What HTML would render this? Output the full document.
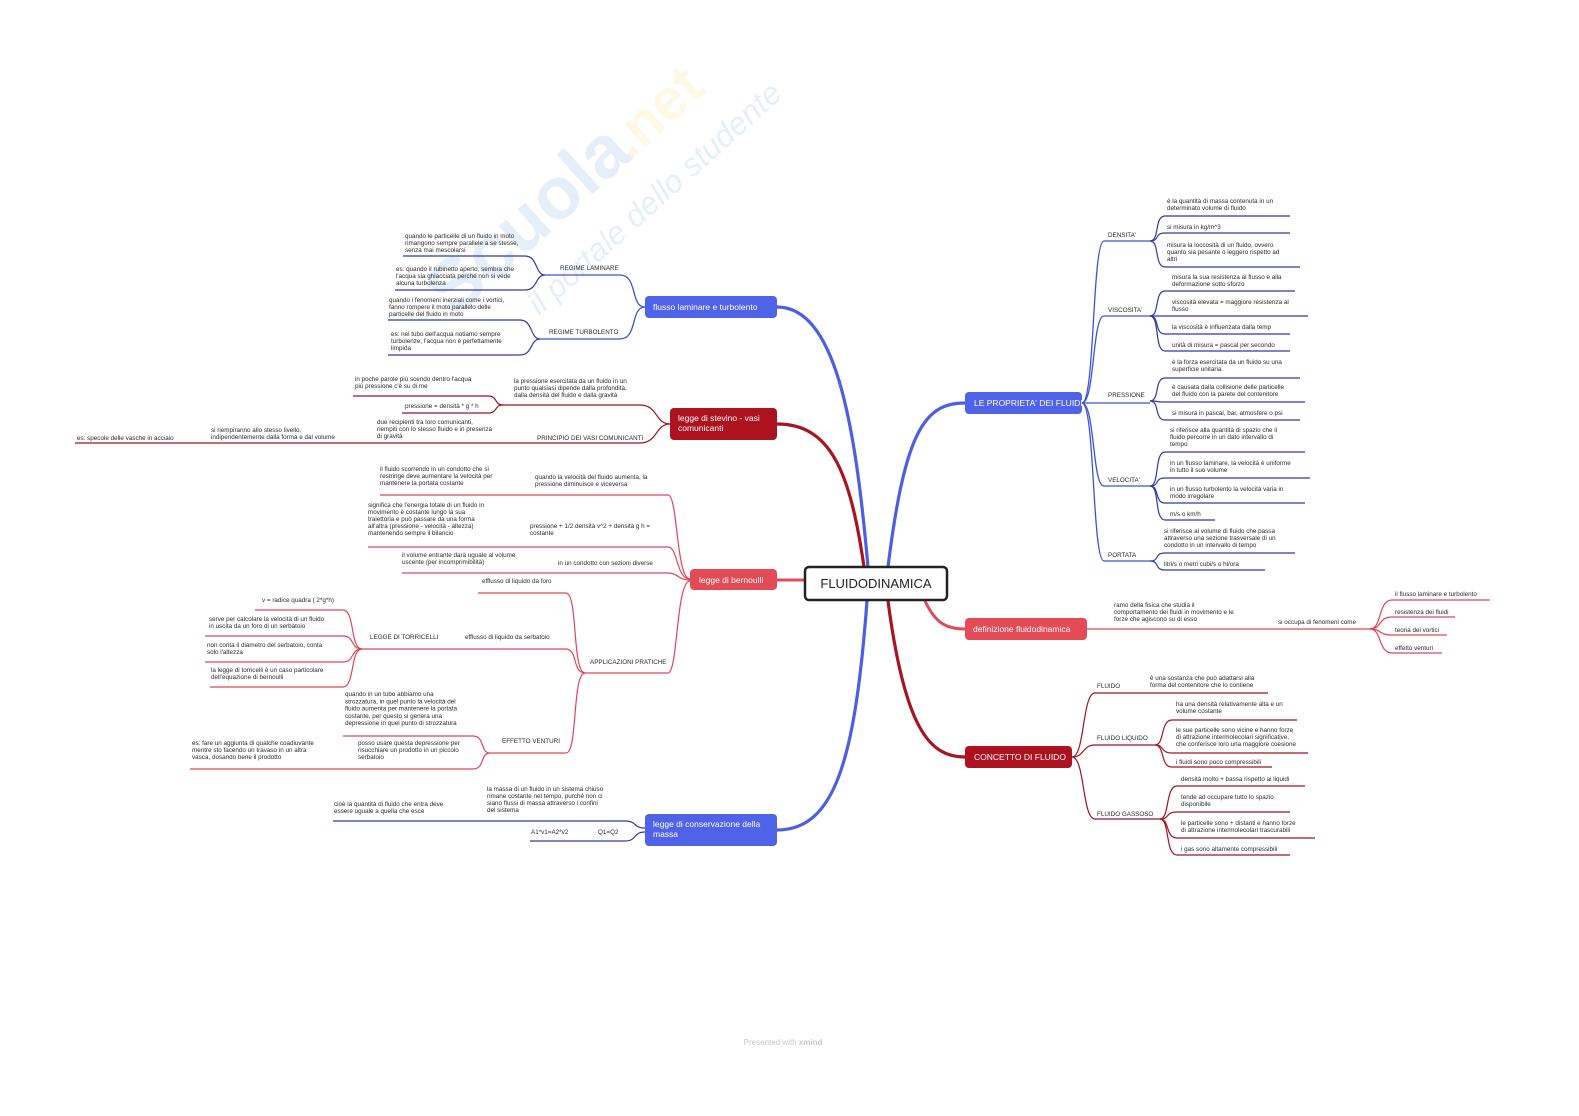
<!DOCTYPE html>
<html><head><meta charset="utf-8"><style>
html,body{margin:0;padding:0;background:#fff;}
svg{display:block;font-family:"Liberation Sans",sans-serif;}
.t{font-size:6.3px;fill:#2a2a2a;}
.c{font-size:6.3px;fill:#2a2a2a;}
.b{fill:none;stroke:#3d52dc;stroke-width:1.3;}
.bd{fill:none;stroke:#2c3aa8;stroke-width:1.2;}
.r{fill:none;stroke:#e04556;stroke-width:1.2;}
.dr{fill:none;stroke:#a01420;stroke-width:1.2;}
.nt{font-size:8.5px;fill:#fff;}
</style></head><body>
<svg width="1579" height="1116" viewBox="0 0 1579 1116" xmlns="http://www.w3.org/2000/svg">
<!-- watermark -->
<g opacity="0.16" transform="rotate(-42 560 190)">
<text x="395" y="215" font-size="74" font-weight="bold" fill="#6aa2dc">Scuola</text>
<text x="632" y="215" font-size="58" font-weight="bold" fill="#f3e060">.net</text>
<text x="460" y="270" font-size="32" font-style="italic" fill="#6aa2dc">il portale dello studente</text>
</g>

<!-- main branches -->
<path d="M868,567 C855,420 835,307 777,307" fill="none" stroke="#4b5ee6" stroke-width="3.2"/>
<path d="M864,567 C850,470 830,424 777,424" fill="none" stroke="#a81420" stroke-width="3.2"/>
<path d="M805,580 H777" fill="none" stroke="#e24a58" stroke-width="3"/>
<path d="M867,601 C855,760 835,830 777,830" fill="none" stroke="#4b5ee6" stroke-width="3.2"/>
<path d="M888,567 C905,430 925,403 965,403" fill="none" stroke="#4b5ee6" stroke-width="3.2"/>
<path d="M925,601 C935,622 945,629 965,629" fill="none" stroke="#e24a58" stroke-width="3"/>
<path d="M888,601 C905,730 930,757 965,757" fill="none" stroke="#a81420" stroke-width="3.2"/>

<!-- center -->
<rect x="805" y="567" width="142" height="33" rx="4" fill="#fff" stroke="#222" stroke-width="2.5"/>
<text x="876" y="588" font-size="13" text-anchor="middle" fill="#222">FLUIDODINAMICA</text>

<!-- nodes -->
<rect x="645" y="296" width="132" height="22" rx="4" fill="#4f63e8"/>
<text x="653" y="310" class="nt">flusso laminare e turbolento</text>
<rect x="670" y="408" width="107" height="32" rx="4" fill="#ac131f"/>
<text x="678" y="421" class="nt">legge di stevino - vasi</text>
<text x="678" y="431" class="nt">comunicanti</text>
<rect x="690" y="569" width="87" height="21" rx="4" fill="#e54a57"/>
<text x="699" y="583" class="nt">legge di bernoulli</text>
<rect x="645" y="814" width="132" height="32" rx="4" fill="#4f63e8"/>
<text x="653" y="827" class="nt">legge di conservazione della</text>
<text x="653" y="837" class="nt">massa</text>
<rect x="965" y="392" width="117" height="22" rx="4" fill="#4f63e8"/>
<text x="974" y="406" class="nt" font-size="7.5">LE PROPRIETA' DEI FLUIDI</text>
<rect x="965" y="618" width="122" height="22" rx="4" fill="#e54a57"/>
<text x="973" y="632" class="nt">definizione fluidodinamica</text>
<rect x="965" y="746" width="107" height="22" rx="4" fill="#ac131f"/>
<text x="974" y="760" class="nt" font-size="7.5">CONCETTO DI FLUIDO</text>

<!-- flusso -->
<path class="b" d="M645,307 C630,307 638,275 620,275 H545"/>
<path class="b" d="M645,307 C630,307 638,339 620,339 H540"/>
<text class="c" x="560" y="270">REGIME LAMINARE</text>
<text class="c" x="549" y="334">REGIME TURBOLENTO</text>
<path class="bd" d="M545,275 C535,275 538,256 525,256 H403"/>
<path class="bd" d="M545,275 C535,275 538,290 525,290 H395"/>
<path class="bd" d="M540,339 C530,339 533,320 520,320 H388"/>
<path class="bd" d="M540,339 C530,339 533,355 520,355 H388"/>
<text class="t" x="405" y="238"><tspan x="405">quando le particelle di un fluido in moto</tspan><tspan x="405" dy="7">rimangono sempre parallele a se stesse,</tspan><tspan x="405" dy="7">senza mai mescolarsi</tspan></text>
<text class="t" x="396" y="271"><tspan x="396">es: quando il rubinetto aperto, sembra che</tspan><tspan x="396" dy="7">l'acqua sia ghiacciata perché non si vede</tspan><tspan x="396" dy="7">alcuna turbolenza</tspan></text>
<text class="t" x="389" y="302"><tspan x="389">quando i fenomeni inerziali come i vortici,</tspan><tspan x="389" dy="7">fanno rompere il moto parallelo delle</tspan><tspan x="389" dy="7">particelle del fluido in moto</tspan></text>
<text class="t" x="391" y="336"><tspan x="391">es: nel tubo dell'acqua notiamo sempre</tspan><tspan x="391" dy="7">turbolenze, l'acqua non è perfettamente</tspan><tspan x="391" dy="7">limpida</tspan></text>

<!-- stevino -->
<path class="dr" d="M670,424 C655,424 658,405 640,405 H503"/>
<path class="dr" d="M503,405 C494,405 498,396 488,396 H353"/>
<path class="dr" d="M503,405 C494,405 498,413 488,413 H402"/>
<path class="dr" d="M670,424 C655,424 658,443 640,443 H75"/>
<text class="t"><tspan x="514" y="383">la pressione esercitata da un fluido in un</tspan><tspan x="514" dy="7">punto qualsiasi dipende dalla profondità,</tspan><tspan x="514" dy="7">dalla densità del fluido e dalla gravità</tspan></text>
<text class="t"><tspan x="355" y="381">in poche parole più scendo dentro l'acqua</tspan><tspan x="355" dy="7">più pressione c'è su di me</tspan></text>
<text class="t" x="405" y="408">pressione = densità * g * h</text>
<text class="c" x="537" y="440">PRINCIPIO DEI VASI COMUNICANTI</text>
<text class="t"><tspan x="377" y="424">due recipienti tra loro comunicanti,</tspan><tspan x="377" dy="7">riempiti con lo stesso fluido e in presenza</tspan><tspan x="377" dy="7">di gravità</tspan></text>
<text class="t"><tspan x="211" y="432">si riempiranno allo stesso livello,</tspan><tspan x="211" dy="7">indipendentemente dalla forma e dal volume</tspan></text>
<text class="t" x="77" y="440">es: specole delle vasche in acciaio</text>

<!-- bernoulli -->
<path class="r" d="M690,579 C676,579 678,495 668,495 H380"/>
<path class="r" d="M690,579 C676,579 678,547 668,547 H368"/>
<path class="r" d="M690,580 C678,580 678,573 668,573 H402"/>
<path class="r" d="M690,581 C676,581 678,673 668,673 H585"/>
<text class="t"><tspan x="535" y="479">quando la velocità del fluido aumenta, la</tspan><tspan x="535" dy="7">pressione diminuisce e viceversa</tspan></text>
<text class="t"><tspan x="380" y="471">il fluido scorrendo in un condotto che si</tspan><tspan x="380" dy="7">restringe deve aumentare la velocità per</tspan><tspan x="380" dy="7">mantenere la portata costante</tspan></text>
<text class="t"><tspan x="530" y="528">pressione + 1/2 densità v^2 + densità g h =</tspan><tspan x="530" dy="7">costante</tspan></text>
<text class="t"><tspan x="368" y="507">significa che l'energia totale di un fluido in</tspan><tspan x="368" dy="7">movimento è costante lungo la sua</tspan><tspan x="368" dy="7">traiettoria e può passare da una forma</tspan><tspan x="368" dy="7">all'altra (pressione - velocità - altezza)</tspan><tspan x="368" dy="7">mantenendo sempre il bilancio</tspan></text>
<text class="t" x="558" y="565">in un condotto con sezioni diverse</text>
<text class="t"><tspan x="402" y="557">il volume entrante darà uguale al volume</tspan><tspan x="402" dy="7">uscente (per incomprimibilità)</tspan></text>
<text class="c" x="590" y="664">APPLICAZIONI PRATICHE</text>
<path class="r" d="M585,673 C572,673 578,593 566,593 H478"/>
<path class="r" d="M585,673 C572,673 578,649 566,649 H362"/>
<path class="r" d="M585,673 C572,673 578,753 566,753 H490"/>
<text class="t" x="482" y="583">efflusso di liquido da foro</text>
<text class="t" x="465" y="639">efflusso di liquido da serbatoio</text>
<text class="c" x="370" y="639">LEGGE DI TORRICELLI</text>
<path class="r" d="M362,649 C350,649 355,610 343,610 H255"/>
<path class="r" d="M362,649 C350,649 355,636 343,636 H205"/>
<path class="r" d="M362,649 C350,649 355,662 343,662 H205"/>
<path class="r" d="M362,649 C350,649 355,687 343,687 H210"/>
<text class="t" x="262" y="602">v = radice quadra ( 2*g*h)</text>
<text class="t"><tspan x="209" y="621">serve per calcolare la velocità di un fluido</tspan><tspan x="209" dy="7">in uscita da un foro di un serbatoio</tspan></text>
<text class="t"><tspan x="207" y="647">non conta il diametro del serbatoio, conta</tspan><tspan x="207" dy="7">solo l'altezza</tspan></text>
<text class="t"><tspan x="211" y="672">la legge di torricelli è un caso particolare</tspan><tspan x="211" dy="7">dell'equazione di bernoulli</tspan></text>
<text class="c" x="502" y="743">EFFETTO VENTURI</text>
<path class="r" d="M490,753 C480,753 485,736 473,736 H343"/>
<path class="r" d="M490,753 C480,753 485,769 473,769 H190"/>
<text class="t"><tspan x="345" y="696">quando in un tubo abbiamo una</tspan><tspan x="345" dy="7.3">strozzatura, in quel punto la velocità del</tspan><tspan x="345" dy="7.3">fluido aumenta per mantenere la portata</tspan><tspan x="345" dy="7.3">costante, per questo si genera una</tspan><tspan x="345" dy="7.3">depressione in quel punto di strozzatura</tspan></text>
<text class="t"><tspan x="358" y="745">posso usare questa depressione per</tspan><tspan x="358" dy="7">risucchiare un prodotto in un piccolo</tspan><tspan x="358" dy="7">serbatoio</tspan></text>
<text class="t"><tspan x="192" y="745">es: fare un aggiunta di qualche coadiuvante</tspan><tspan x="192" dy="7">mentre sto facendo un travaso in un altra</tspan><tspan x="192" dy="7">vasca, dosando bene il prodotto</tspan></text>

<!-- conservazione -->
<path class="bd" d="M645,828 C633,828 637,821 625,821 H333"/>
<path class="bd" d="M645,832 C633,832 637,841 625,841 H530"/>
<text class="t"><tspan x="487" y="791">la massa di un fluido in un sistema chiuso</tspan><tspan x="487" dy="7">rimane costante nel tempo, purché non ci</tspan><tspan x="487" dy="7">siano flussi di massa attraverso i confini</tspan><tspan x="487" dy="7">del sistema</tspan></text>
<text class="t"><tspan x="334" y="806">cioè la quantità di fluido che entra deve</tspan><tspan x="334" dy="7">essere uguale a quella che esce</tspan></text>
<text class="t" x="531" y="834">A1*v1=A2*v2</text>
<text class="t" x="598" y="834">Q1=Q2</text>

<!-- proprieta -->
<path class="b" d="M1082,403 C1095,403 1092,241 1104,241 H1150"/>
<path class="b" d="M1082,403 C1095,403 1092,316 1104,316 H1150"/>
<path class="b" d="M1082,403 H1150"/>
<path class="b" d="M1082,403 C1095,403 1092,486 1104,486 H1150"/>
<path class="b" d="M1082,403 C1095,403 1092,561 1104,561 H1150"/>
<text class="c" x="1108" y="237">DENSITA'</text>
<text class="c" x="1108" y="312">VISCOSITA'</text>
<text class="c" x="1108" y="397">PRESSIONE</text>
<text class="c" x="1108" y="482">VELOCITA'</text>
<text class="c" x="1108" y="557">PORTATA</text>
<path class="bd" d="M1150,241 C1160,241 1154,216 1165,216 H1290"/>
<path class="bd" d="M1150,241 C1160,241 1154,233 1165,233 H1290"/>
<path class="bd" d="M1150,241 C1160,241 1154,267 1165,267 H1300"/>
<path class="bd" d="M1150,316 C1160,316 1154,291 1165,291 H1295"/>
<path class="bd" d="M1150,316 H1308"/>
<path class="bd" d="M1150,316 C1160,316 1154,334 1165,334 H1290"/>
<path class="bd" d="M1150,316 C1160,316 1154,351 1165,351 H1290"/>
<path class="bd" d="M1150,401 C1160,401 1154,378 1165,378 H1300"/>
<path class="bd" d="M1150,401 C1160,401 1154,402 1165,402 H1305"/>
<path class="bd" d="M1150,401 C1160,401 1154,420 1165,420 H1300"/>
<path class="bd" d="M1150,486 C1160,486 1154,452 1165,452 H1305"/>
<path class="bd" d="M1150,486 C1160,486 1154,478 1165,478 H1310"/>
<path class="bd" d="M1150,486 C1160,486 1154,503 1165,503 H1305"/>
<path class="bd" d="M1150,486 C1160,486 1154,520 1165,520 H1215"/>
<path class="bd" d="M1150,561 C1160,561 1154,553 1165,553 H1295"/>
<path class="bd" d="M1150,561 C1160,561 1154,570 1165,570 H1265"/>
<text class="t"><tspan x="1167" y="203">è la quantità di massa contenuta in un</tspan><tspan x="1167" dy="7">determinato volume di fluido</tspan></text>
<text class="t" x="1167" y="229">si misura in kg/m^3</text>
<text class="t"><tspan x="1167" y="247">misura la loccosità di un fluido, ovvero</tspan><tspan x="1167" dy="7">quanto sia pesante o leggero rispetto ad</tspan><tspan x="1167" dy="7">altri</tspan></text>
<text class="t"><tspan x="1172" y="279">misura la sua resistenza al flusso e alla</tspan><tspan x="1172" dy="7">deformazione sotto sforzo</tspan></text>
<text class="t"><tspan x="1172" y="304">viscosità elevata = maggiore resistenza al</tspan><tspan x="1172" dy="7">flusso</tspan></text>
<text class="t" x="1172" y="329">la viscosità è influenzata dalla temp</text>
<text class="t" x="1172" y="347">unità di misura = pascal per secondo</text>
<text class="t"><tspan x="1172" y="364">è la forza esercitata da un fluido su una</tspan><tspan x="1172" dy="7">superficie unitaria.</tspan></text>
<text class="t"><tspan x="1172" y="389">è causata dalla collisione delle particelle</tspan><tspan x="1172" dy="7">del fluido con la parete del contenitore</tspan></text>
<text class="t" x="1172" y="415">si misura in pascal, bar, atmosfere o psi</text>
<text class="t"><tspan x="1170" y="432">si riferisce alla quantità di spazio che il</tspan><tspan x="1170" dy="7">fluido percorre in un dato intervallo di</tspan><tspan x="1170" dy="7">tempo</tspan></text>
<text class="t"><tspan x="1170" y="465">in un flusso laminare, la velocità è uniforme</tspan><tspan x="1170" dy="7">in tutto il suo volume</tspan></text>
<text class="t"><tspan x="1170" y="491">in un flusso turbolento la velocità varia in</tspan><tspan x="1170" dy="7">modo irregolare</tspan></text>
<text class="t" x="1170" y="516">m/s o km/h</text>
<text class="t"><tspan x="1164" y="533">si riferisce al volume di fluido che passa</tspan><tspan x="1164" dy="7">attraverso una sezione trasversale di un</tspan><tspan x="1164" dy="7">condotto in un intervallo di tempo</tspan></text>
<text class="t" x="1164" y="566">litri/s o metri cubi/s o hl/ora</text>

<!-- definizione -->
<path class="r" d="M1087,629 H1370"/>
<path class="r" d="M1370,629 C1382,629 1378,600 1392,600 H1490"/>
<path class="r" d="M1370,629 C1382,629 1378,617 1392,617 H1455"/>
<path class="r" d="M1370,629 C1382,629 1378,635 1392,635 H1447"/>
<path class="r" d="M1370,629 C1382,629 1378,653 1392,653 H1442"/>
<text class="t"><tspan x="1114" y="607">ramo della fisica che studia il</tspan><tspan x="1114" dy="7">comportamento dei fluidi in movimento e le</tspan><tspan x="1114" dy="7">forze che agiscono su di esso</tspan></text>
<text class="t" x="1278" y="624">si occupa di fenomeni come</text>
<text class="t" x="1395" y="596">il flusso laminare e turbolento</text>
<text class="t" x="1395" y="614">resistenza dei fluidi</text>
<text class="t" x="1395" y="632">teoria dei vortici</text>
<text class="t" x="1395" y="650">effetto venturi</text>

<!-- concetto -->
<path class="dr" d="M1072,757 C1085,757 1082,693 1095,693 H1268"/>
<path class="dr" d="M1072,757 C1085,757 1082,745 1095,745 H1155"/>
<path class="dr" d="M1072,757 C1085,757 1082,819 1095,819 H1160"/>
<path class="dr" d="M1155,745 C1165,745 1160,720 1172,720 H1297"/>
<path class="dr" d="M1155,745 C1165,745 1160,753 1172,753 H1308"/>
<path class="dr" d="M1155,745 C1165,745 1160,767 1172,767 H1272"/>
<path class="dr" d="M1160,819 C1170,819 1165,786 1177,786 H1305"/>
<path class="dr" d="M1160,819 C1170,819 1165,812 1177,812 H1290"/>
<path class="dr" d="M1160,819 C1170,819 1165,838 1177,838 H1315"/>
<path class="dr" d="M1160,819 C1170,819 1165,855 1177,855 H1290"/>
<text class="c" x="1097" y="688">FLUIDO</text>
<text class="c" x="1097" y="740">FLUIDO LIQUIDO</text>
<text class="c" x="1097" y="816">FLUIDO GASSOSO</text>
<text class="t"><tspan x="1150" y="680">è una sostanza che può adattarsi alla</tspan><tspan x="1150" dy="7">forma del contenitore che lo contiene</tspan></text>
<text class="t"><tspan x="1176" y="706">ha una densità relativamente alta e un</tspan><tspan x="1176" dy="7">volume costante</tspan></text>
<text class="t"><tspan x="1176" y="732">le sue particelle sono vicine e hanno forze</tspan><tspan x="1176" dy="7">di attrazione intermolecolari significative,</tspan><tspan x="1176" dy="7">che conferisce loro una maggiore coesione</tspan></text>
<text class="t" x="1176" y="764">i fluidi sono poco compressibili</text>
<text class="t" x="1181" y="781">densità molto + bassa rispetto ai liquidi</text>
<text class="t"><tspan x="1181" y="799">tende ad occupare tutto lo spazio</tspan><tspan x="1181" dy="7">disponibile</tspan></text>
<text class="t"><tspan x="1181" y="825">le particelle sono + distanti e hanno forze</tspan><tspan x="1181" dy="7">di attrazione intermolecolari trascurabili</tspan></text>
<text class="t" x="1181" y="851">i gas sono altamente compressibili</text>

<text x="783" y="1045" font-size="8" fill="#c8c8c8" text-anchor="middle">Presented with <tspan font-weight="bold">xmind</tspan></text>
</svg>
</body></html>
